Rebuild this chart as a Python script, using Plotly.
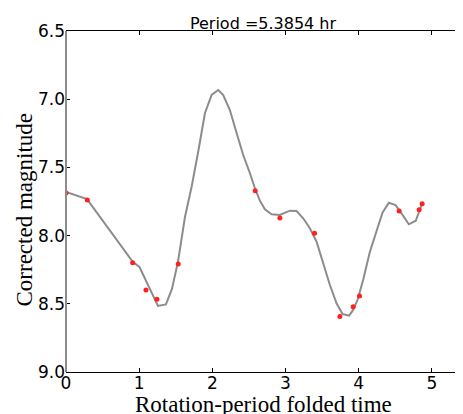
import plotly.graph_objects as go

# Observed (folded) data points
obs_phase = [0.000, 0.291, 0.911, 1.093, 1.243, 1.534, 2.586, 2.923, 3.397,
             3.743, 3.925, 4.012, 4.553, 4.827, 4.868]
obs_mag = [7.687, 7.739, 8.199, 8.399, 8.467, 8.208, 7.671, 7.871, 7.983,
           8.594, 8.521, 8.443, 7.820, 7.810, 7.766]

# Fitted light curve
fit_phase = [0.000, 0.287, 0.915, 1.004, 1.257, 1.366, 1.448, 1.530, 1.626,
             1.717, 1.807, 1.899, 1.990, 2.081, 2.149, 2.240, 2.332, 2.422,
             2.514, 2.582, 2.650, 2.719, 2.810, 2.923, 3.060, 3.152, 3.242,
             3.333, 3.425, 3.515, 3.607, 3.698, 3.780, 3.870, 3.925, 3.989,
             4.061, 4.153, 4.245, 4.326, 4.413, 4.504, 4.586, 4.686, 4.781,
             4.822, 4.867]
fit_mag = [7.680, 7.732, 8.194, 8.230, 8.516, 8.505, 8.391, 8.194, 7.864,
           7.642, 7.385, 7.103, 6.969, 6.933, 6.969, 7.079, 7.248, 7.409,
           7.543, 7.653, 7.744, 7.807, 7.844, 7.849, 7.817, 7.820, 7.873,
           7.946, 8.045, 8.203, 8.362, 8.496, 8.575, 8.587, 8.545, 8.465,
           8.326, 8.120, 7.959, 7.832, 7.759, 7.776, 7.837, 7.917, 7.891,
           7.825, 7.763]

period = 5.3854
x_ticks = [0, 1, 2, 3, 4, 5]
y_ticks = [6.5, 7.0, 7.5, 8.0, 8.5, 9.0]
title_text = f"Period ={period} hr"
x_title = "Rotation-period folded time"
y_title = "Corrected magnitude"

fig = go.Figure()
fig.add_trace(go.Scatter(x=fit_phase, y=fit_mag, mode="lines",
                         line=dict(color="#8c8c8c", width=2), showlegend=False))
fig.add_trace(go.Scatter(x=obs_phase, y=obs_mag, mode="markers",
                         marker=dict(color="#ff2020", size=5), showlegend=False))

fig.update_layout(
    width=455, height=406,
    margin=dict(l=58, r=3, t=23, b=42, autoexpand=False),
    paper_bgcolor="white", plot_bgcolor="white",
    title=dict(text=title_text, x=0.5, xanchor="center", xref="paper",
               y=1, yref="paper", yanchor="bottom", pad=dict(b=2),
               font=dict(family="DejaVu Sans", size=16, color="black")),
    shapes=[
        dict(type="line", xref="paper", yref="paper", x0=0, x1=0, y0=0, y1=1,
             line=dict(color="#8c8c8c", width=2)),
        dict(type="line", xref="paper", yref="paper", x0=1, x1=1, y0=0, y1=1,
             line=dict(color="black", width=1)),
    ],
    annotations=[
        dict(text=x_title, xref="paper", yref="paper", x=0.5, y=0, yshift=-32,
             xanchor="center", yanchor="middle", showarrow=False,
             font=dict(family="Liberation Serif", size=23, color="black")),
        dict(text=y_title, xref="paper", yref="paper", x=0, xshift=-42, y=0.5, yshift=-8,
             xanchor="center", yanchor="middle", textangle=-90, showarrow=False,
             font=dict(family="Liberation Serif", size=23, color="black")),
    ],
)
fig.update_xaxes(range=[0, period], tickvals=x_ticks, ticktext=[str(v) for v in x_ticks],
                 automargin=False,
                 showgrid=False, zeroline=False, showline=True, linecolor="black", linewidth=1,
                 mirror="ticks", ticks="inside", ticklen=4, tickcolor="black",
                 ticklabelstandoff=-4,
                 tickfont=dict(family="DejaVu Sans", size=17, color="black"))
fig.update_yaxes(range=[9.0, 6.5], tickvals=y_ticks, ticktext=[f"{v:.1f}" for v in y_ticks],
                 automargin=False,
                 showgrid=False, zeroline=False, showline=False,
                 mirror="ticks", ticks="inside", ticklen=4, tickcolor="black",
                 ticklabelstandoff=0,
                 tickfont=dict(family="DejaVu Sans", size=17, color="black"))

fig.write_html("out.html")
